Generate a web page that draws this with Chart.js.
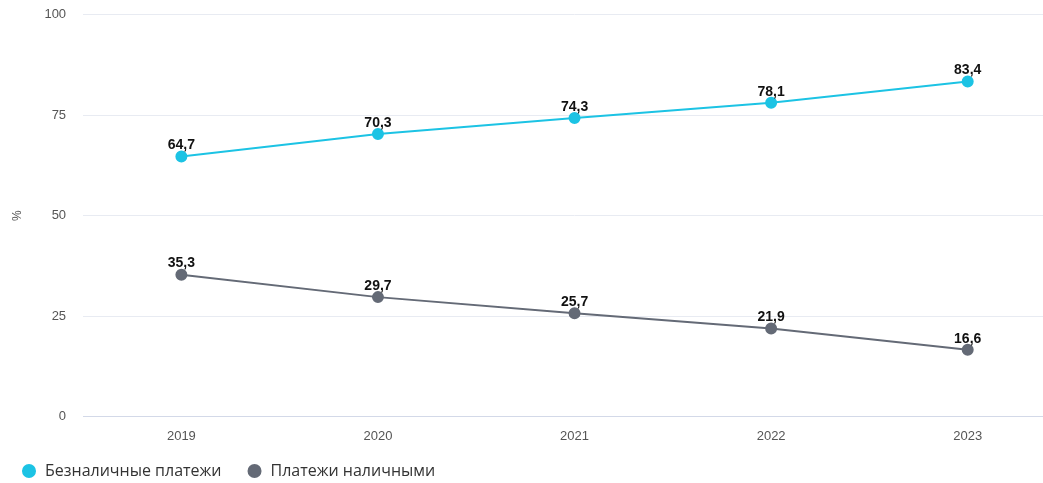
<!DOCTYPE html>
<html>
<head>
<meta charset="utf-8">
<script src="https://cdn.jsdelivr.net/npm/chart.js@4"></script>
<style>
    html, body { margin: 0; padding: 0; background: #fff; overflow: hidden; }
    .chart-wrap { position: relative; width: 1092px; height: 517px; margin-top: -10px; }
</style>
</head>
<body>
<div class="chart-wrap">
    <canvas id="paymentsChart"></canvas>
</div>
<script>
// data
const years = ['2019', '2020', '2021', '2022', '2023'];
const cashless = [64.7, 70.3, 74.3, 78.1, 83.4];
const cash = [35.3, 29.7, 25.7, 21.9, 16.6];
const yTicks = [0, 25, 50, 75, 100];

const seriesNames = ['Безналичные платежи', 'Платежи наличными'];
const colors = ['#1cc3e4', '#646a76'];

// simple value labels above each point
const valueLabels = {
    id: 'valueLabels',
    afterDatasetsDraw(chart) {
        const ctx = chart.ctx;
        ctx.save();
        ctx.font = 'bold 14px "Liberation Sans", Arial, sans-serif';
        ctx.fillStyle = '#111';
        ctx.textAlign = 'center';
        ctx.textBaseline = 'bottom';
        chart.data.datasets.forEach((ds, i) => {
            chart.getDatasetMeta(i).data.forEach((pt, j) => {
                ctx.fillText(String(ds.data[j]).replace('.', ','), pt.x, pt.y - 4);
            });
        });
        ctx.restore();
    }
};

// pull the legend a bit closer to the axis labels
const legendNudge = {
    id: 'legendNudge',
    afterLayout(chart) {
        const lg = chart.legend;
        lg.left -= 4;
        lg.right -= 4;
        lg.top -= 18;
        lg.bottom -= 18;
    }
};

new Chart(document.getElementById('paymentsChart'), {
    type: 'line',
    data: {
        labels: years,
        datasets: [
            {
                label: seriesNames[0],
                data: cashless,
                borderColor: colors[0],
                backgroundColor: colors[0],
                borderWidth: 2,
                pointRadius: 5,
                pointHoverRadius: 5
            },
            {
                label: seriesNames[1],
                data: cash,
                borderColor: colors[1],
                backgroundColor: colors[1],
                borderWidth: 2,
                pointRadius: 5,
                pointHoverRadius: 5
            }
        ]
    },
    options: {
        responsive: true,
        maintainAspectRatio: false,
        animation: false,
        layout: { padding: { left: 0, right: 26, top: 0, bottom: 0 } },
        scales: {
            x: {
                offset: true,
                grid: { display: false, drawTicks: false },
                border: { color: '#d3d9e8', width: 1 },
                ticks: {
                    color: '#555',
                    padding: 12,
                    font: { family: '"Liberation Sans", Arial, sans-serif', size: 13 }
                }
            },
            y: {
                min: 0,
                max: 100,
                afterBuildTicks(axis) {
                    axis.ticks = yTicks.map(v => ({ value: v }));
                },
                grid: { color: '#e8ebf2', drawTicks: false },
                border: { display: false },
                ticks: {
                    color: '#555',
                    padding: 17,
                    font: { family: '"Liberation Sans", Arial, sans-serif', size: 13 }
                },
                title: {
                    display: true,
                    text: '%',
                    color: '#555',
                    padding: { top: 10, bottom: 3 },
                    font: { family: '"Liberation Sans", Arial, sans-serif', size: 12 }
                }
            }
        },
        plugins: {
            tooltip: { enabled: false },
            legend: {
                position: 'bottom',
                align: 'start',
                labels: {
                    usePointStyle: true,
                    pointStyle: 'circle',
                    boxWidth: 16,
                    boxHeight: 8.5,
                    padding: 25,
                    color: '#333',
                    font: { family: '"Open Sans", "Noto Sans", sans-serif', size: 16 }
                }
            }
        }
    },
    plugins: [valueLabels, legendNudge]
});
</script>
</body>
</html>
